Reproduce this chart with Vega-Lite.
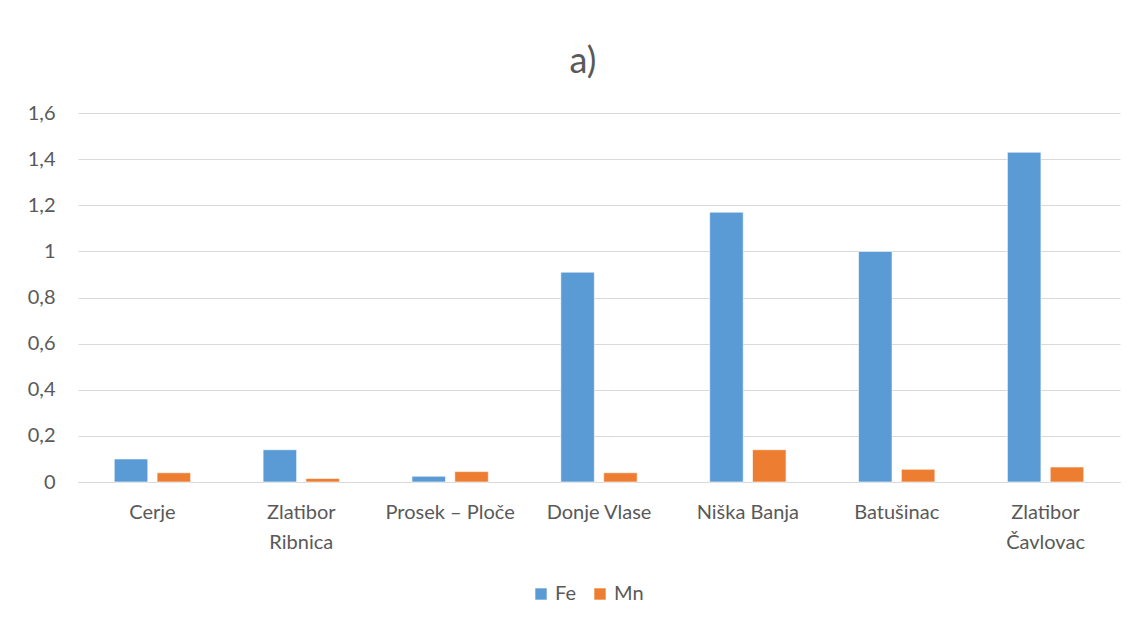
{
  "$schema": "https://vega.github.io/schema/vega-lite/v6.json",
  "autosize": "none",
  "width": 1042,
  "height": 369,
  "padding": {"left": 78, "top": 113, "right": 25, "bottom": 144},
  "background": "white",
  "title": {"text": "a)", "fontSize": 36, "offset": 22, "dx": -16, "color": "#595959", "fontWeight": "normal", "font": "Lato", "anchor": "middle"},
  "data": {
    "values": [
      {"site": "Cerje", "element": "Fe", "value": 0.1},
      {"site": "Cerje", "element": "Mn", "value": 0.04},
      {"site": "Zlatibor Ribnica", "element": "Fe", "value": 0.14},
      {"site": "Zlatibor Ribnica", "element": "Mn", "value": 0.015},
      {"site": "Prosek – Ploče", "element": "Fe", "value": 0.025},
      {"site": "Prosek – Ploče", "element": "Mn", "value": 0.045},
      {"site": "Donje Vlase", "element": "Fe", "value": 0.91},
      {"site": "Donje Vlase", "element": "Mn", "value": 0.04},
      {"site": "Niška Banja", "element": "Fe", "value": 1.17},
      {"site": "Niška Banja", "element": "Mn", "value": 0.14},
      {"site": "Batušinac", "element": "Fe", "value": 1.0},
      {"site": "Batušinac", "element": "Mn", "value": 0.055},
      {"site": "Zlatibor Čavlovac", "element": "Fe", "value": 1.43},
      {"site": "Zlatibor Čavlovac", "element": "Mn", "value": 0.065}
    ]
  },
  "mark": {"type": "bar", "stroke": "#ffffff", "strokeOpacity": 0.6, "strokeWidth": 1},
  "encoding": {
    "x": {
      "field": "site", "type": "nominal", "sort": null, "title": null,
      "scale": {"paddingInner": 0.487, "paddingOuter": 0.2435},
      "axis": {
        "labelAngle": 0, "ticks": false, "domainColor": "#D9D9D9", "domainWidth": 1,
        "labelFont": "Lato", "labelFontSize": 20, "labelColor": "#595959",
        "labelPadding": 20, "labelLineHeight": 30, "labelBaseline": "top",
        "labelExpr": "indexof(datum.value, 'Zlatibor') == 0 ? split(datum.value, ' ') : datum.value"
      }
    },
    "xOffset": {"field": "element", "type": "nominal", "scale": {"paddingInner": 0.217, "paddingOuter": 0}},
    "y": {
      "field": "value", "type": "quantitative", "title": null,
      "scale": {"domain": [0, 1.6], "nice": false},
      "axis": {
        "values": [0, 0.2, 0.4, 0.6, 0.8, 1, 1.2, 1.4, 1.6],
        "domain": false, "ticks": false, "gridColor": "#D9D9D9", "gridWidth": 1,
        "labelFont": "Lato", "labelFontSize": 20, "labelColor": "#595959", "labelPadding": 23,
        "labelExpr": "replace(format(datum.value, '.1~f'), '.', ',')"
      }
    },
    "color": {
      "field": "element", "type": "nominal", "title": null,
      "scale": {"domain": ["Fe", "Mn"], "range": ["#5B9BD5", "#ED7D31"]},
      "legend": {
        "orient": "none", "legendX": 453, "legendY": 471, "direction": "horizontal",
        "symbolType": "square", "symbolSize": 130, "symbolStrokeWidth": 0,
        "labelFont": "Lato", "labelFontSize": 20, "labelColor": "#595959",
        "columnPadding": 14, "labelOffset": 4
      }
    }
  },
  "config": {"view": {"stroke": null}}
}
